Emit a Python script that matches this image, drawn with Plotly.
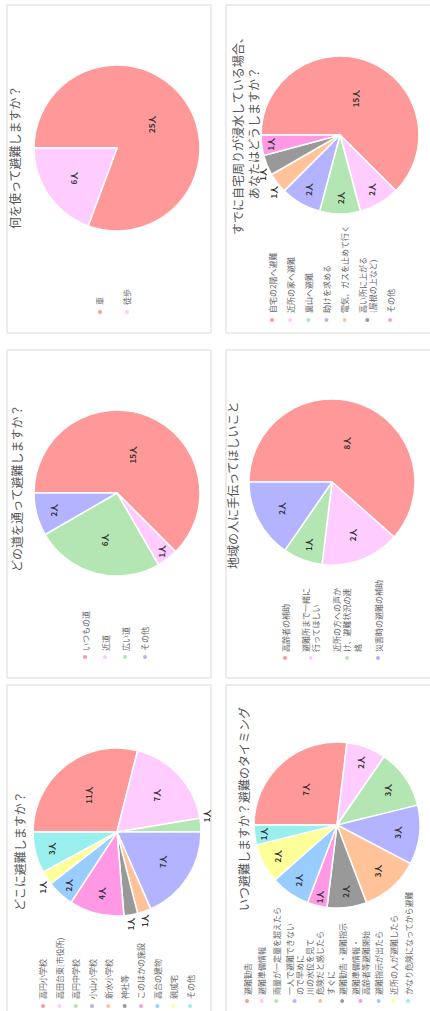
import plotly.graph_objects as go

# ---------------- data ----------------
title_where = "どこに避難しますか？"
labels_where = ["高円小学校", "高田台東(市役所)", "高円中学校", "小山小学校", "新水小学校",
                "神社等", "このほかの施設", "高台の建物", "親戚宅", "その他"]
values_where = [11, 7, 1, 7, 1, 1, 4, 2, 1, 3]

title_route = "どの道を通って避難しますか？"
labels_route = ["いつもの道", "近道", "広い道", "その他"]
values_route = [15, 1, 6, 2]

title_means = "何を使って避難しますか？"
labels_means = ["車", "徒歩"]
values_means = [25, 6]

title_when = "いつ避難しますか？避難のタイミング"
labels_when = ["避難勧告", "避難準備情報", "雨量が一定量を超えたら",
               "一人で避難できない<br>ので早めに", "川の水位を見て<br>危険だと感じたら<br>すぐに",
               "避難勧告・避難指示", "避難準備情報・<br>高齢者等避難開始", "避難指示が出たら",
               "近所の人が避難したら", "かなり危険になってから避難"]
values_when = [7, 2, 3, 3, 3, 2, 1, 2, 2, 1]

title_help = "地域の人に手伝ってほしいこと"
labels_help = ["高齢者の補助", "避難所まで一緒に<br>行ってほしい",
               "近所の方への声か<br>け、避難状況の連<br>絡", "災害時の避難の補助"]
values_help = [8, 2, 1, 2]

title_flooded = "すでに自宅周りが浸水している場合、<br>あなたはどうしますか？"
labels_flooded = ["自宅の2階へ避難", "近所の家へ避難", "裏山へ避難", "助けを求める",
                  "電気、ガスを止めて行く", "高い所に上がる<br>(屋根の上など)", "その他"]
values_flooded = [15, 2, 2, 2, 1, 1, 1]

palette = ["#FF9999", "#FFCCFF", "#B3E6B3", "#B3B3FF", "#FFC299",
           "#999999", "#FF99E6", "#99CCFF", "#FFFF99", "#99EEEE"]

# ---------------- layout (unrotated canvas, pixels) ----------------
W, H = 1011, 430
FONT = "Noto Sans CJK JP, Noto Sans, sans-serif"


def px(x):
    return x / W


def py(y):
    return 1 - y / H


panels = [
    dict(title=title_where, labels=labels_where, values=values_where,
         card=(-4, 7, 326, 211), pie=(179, 117, 84), tpos=(160, 19),
         leg=(5, 10, 43, 190),
         textpos=["inside", "inside", "outside", "inside", "outside", "outside",
                  "inside", "inside", "outside", "inside"]),
    dict(title=title_route, labels=labels_route, values=values_route,
         card=(333, 7, 661, 211), pie=(518, 117, 83), tpos=(522, 16),
         leg=(354, 358, 85, 145), textpos=None),
    dict(title=title_means, labels=labels_means, values=values_means,
         card=(678, 7, 1006, 211), pie=(863, 117, 83), tpos=(853, 14),
         leg=(699, 704, 100, 127), textpos=None),
    dict(title=title_when, labels=labels_when, values=values_when,
         card=(-4, 226, 326, 434), pie=(186, 337, 83), tpos=(202, 243),
         leg=(10, 14, 247, 408), textpos=None),
    dict(title=title_help, labels=labels_help, values=values_help,
         card=(333, 226, 661, 434), pie=(529, 332, 83), tpos=(525, 232),
         leg=(353, 357, 285, 378), textpos=None),
    dict(title=title_flooded, labels=labels_flooded, values=values_flooded,
         card=(678, 226, 1006, 434), pie=(876, 340, 79), tpos=(878, 245),
         leg=(691, 696, 272, 390),
         textpos=["inside", "inside", "inside", "inside", "outside", "outside", "inside"]),
]

fig = go.Figure()
shapes = []
annotations = []

for p in panels:
    x0, y0, x1, y1 = p["card"]
    shapes.append(dict(type="rect", xref="paper", yref="paper",
                       x0=px(x0), x1=px(x1), y0=py(y1), y1=py(y0),
                       line=dict(color="#DADADA", width=1), fillcolor="rgba(0,0,0,0)",
                       layer="below"))
    cx, cy, r = p["pie"]
    n = len(p["values"])
    fig.add_trace(go.Pie(
        labels=p["labels"], values=p["values"], sort=False,
        direction="clockwise", rotation=0,
        domain=dict(x=[px(cx - r), px(cx + r)], y=[py(cy + r), py(cy - r)]),
        marker=dict(colors=palette[:n], line=dict(color="white", width=1.5)),
        texttemplate="<b>%{value}人</b>",
        textposition=p["textpos"] if p["textpos"] else "inside",
        insidetextorientation="horizontal",
        textfont=dict(size=8, color="#333333", family=FONT),
        outsidetextfont=dict(size=8, color="#333333", family=FONT),
        showlegend=False, hoverinfo="skip",
    ))
    tx, ty = p["tpos"]
    annotations.append(dict(x=px(tx), y=py(ty), xref="paper", yref="paper",
                            text=p["title"], showarrow=False, xanchor="center",
                            yanchor="middle", align="center",
                            font=dict(size=12, color="#555555", family=FONT)))
    # custom legend
    mx, tx0, yf, yl = p["leg"]
    lines = [lab.count("<br>") + 1 for lab in p["labels"]]
    cents = [0.0]
    for i in range(1, n):
        cents.append(cents[-1] + (lines[i - 1] + lines[i]) / 2 * 8 + 8)
    span = cents[-1] if cents[-1] > 0 else 1
    for i, lab in enumerate(p["labels"]):
        c = yf + (yl - yf) * cents[i] / span if n > 1 else yf
        annotations.append(dict(x=px(tx0), y=py(c), xref="paper", yref="paper",
                                text=lab, showarrow=False, xanchor="left",
                                yanchor="middle", align="left",
                                font=dict(size=8, color="#666666", family=FONT)))
        shapes.append(dict(type="circle", xref="paper", yref="paper",
                           x0=px(mx - 2), x1=px(mx + 2), y0=py(c + 2), y1=py(c - 2),
                           fillcolor=palette[i], line=dict(width=0)))

fig.update_layout(
    width=W, height=H,
    margin=dict(l=0, r=0, t=0, b=0, autoexpand=False),
    paper_bgcolor="white", plot_bgcolor="white",
    font=dict(family=FONT),
    shapes=shapes, annotations=annotations,
)

post = """
var gd = document.getElementById('{plot_id}');
document.documentElement.style.margin='0';
document.documentElement.style.overflow='hidden';
document.body.style.margin='0';
document.body.style.overflow='hidden';
gd.style.position='absolute';
gd.style.left='0px';
gd.style.top='0px';
gd.style.transformOrigin='0 0';
gd.style.transform='translateY(1011px) rotate(-90deg)';
"""

fig.write_html("out.html", include_plotlyjs=True, post_script=post,
               config={"displayModeBar": False, "responsive": False})
